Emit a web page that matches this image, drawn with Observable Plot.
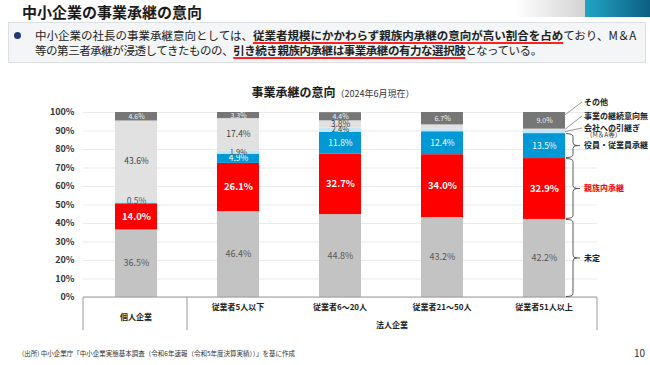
<!DOCTYPE html>
<html><head><meta charset="utf-8">
<script src="https://cdn.jsdelivr.net/npm/d3@7"></script>
<script src="https://cdn.jsdelivr.net/npm/@observablehq/plot@0.6"></script>
<style>
body{margin:0;width:650px;height:365px;overflow:hidden;background:#fff;font-family:"Noto Sans CJK JP","Noto Sans",sans-serif;position:relative;color:#1a1a1a}
.abs{position:absolute;white-space:nowrap}
.u{font-weight:bold;text-decoration:underline;text-decoration-color:#ff2020;text-decoration-thickness:1.5px;text-underline-offset:2px}
#chart{position:absolute;left:0;top:95px}
#chart g[aria-label="y-axis tick label"] text{font-weight:bold;font-size:9px;fill:#333}
</style></head><body>
<div class="abs" style="left:22px;top:3px;font-size:15px;line-height:17px;font-weight:bold;color:#1a1a1a">中小企業の事業承継の意向</div>
<div class="abs" style="left:515px;top:0;width:70px;height:17px;background:linear-gradient(to right,#ffffff,#d3d3d3)"></div>
<div class="abs" style="left:585px;top:0;width:65px;height:17px;background:linear-gradient(to right,#22a4c5,#0d5e82)"></div>
<div class="abs" style="left:8px;top:22px;width:638px;height:41px;box-sizing:border-box;background:#f3f5f6;border:1px solid #dce0e3"></div>
<div class="abs" style="left:14px;top:32px;width:7px;height:7px;border-radius:50%;background:#1f3a6e"></div>
<div class="abs" style="left:35px;top:28px;font-size:11.5px;line-height:15px;color:#222">中小企業の社長の事業承継意向としては、<span class="u">従業者規模にかかわらず親族内承継の意向が高い割合を占め</span>ており、M＆A<br><span style="letter-spacing:-0.45px">等の第三者承継が浸透してきたものの、<span class="u">引き続き親族内承継は事業承継の有力な選択肢</span>となっている。</span></div>
<div class="abs" style="left:333px;top:82px;transform:translateX(-50%);line-height:16px;color:#1a1a1a"><span style="font-size:12px;font-weight:bold">事業承継の意向</span><span style="font-size:9px;color:#333">（2024年6月現在）</span></div>
<div id="chart"></div>
<div class="abs" style="left:22px;top:349px;font-size:6.5px;line-height:9px;color:#333">(出所) 中小企業庁「中小企業実態基本調査（令和6年速報（令和5年度決算実績））」を基に作成</div>
<div class="abs" style="left:634px;top:347px;font-size:10px;line-height:12px;color:#333">10</div>
<script>
const categories = ["個人企業", "従業者5人以下", "従業者6～20人", "従業者21～50人", "従業者51人以上"];
const seriesNames = ["未定", "親族内承継", "役員・従業員承継", "会社への引継ぎ", "事業の継続意向無", "その他"];
const seriesColors = ["#c3c3c3", "#ff0000", "#0098d5", "#c3e6f7", "#e1e1e1", "#767676"];
const undecided  = [36.5, 46.4, 44.8, 43.2, 42.2];
const family     = [14.0, 26.1, 32.7, 34.0, 32.9];
const employee   = [0.5, 4.9, 11.8, 12.4, 13.5];
const company    = [0.8, 1.9, 2.4, 1.5, 1.7];
const noContinue = [43.6, 17.4, 3.8, 2.2, 0.7];
const other      = [4.6, 3.3, 4.4, 6.7, 9.0];
const yTicks = [0, 10, 20, 30, 40, 50, 60, 70, 80, 90, 100];
const groupLabel = "法人企業";
const noteMA = "（M＆A等）";
const unlabeled = [["個人企業", "会社への引継ぎ"], ["従業者21～50人", "会社への引継ぎ"], ["従業者21～50人", "事業の継続意向無"], ["従業者51人以上", "会社への引継ぎ"], ["従業者51人以上", "事業の継続意向無"]];

const seriesValues = [undecided, family, employee, company, noContinue, other];
const rows = [];
categories.forEach((cat, i) => {
  let acc = 0;
  seriesNames.forEach((s, k) => {
    const v = seriesValues[k][i];
    rows.push({cat, series: s, value: v, y1: acc, y2: acc + v,
      labeled: !unlabeled.some(([c, ss]) => c === cat && ss === s)});
    acc += v;
  });
});

const labelStyle = {
  "未定": {fill: "#595959", fontSize: 9, fontWeight: "normal"},
  "親族内承継": {fill: "#ffffff", fontSize: 9.5, fontWeight: "bold"},
  "役員・従業員承継": {fill: "#ffffff", fontSize: 8.5, fontWeight: "normal"},
  "会社への引継ぎ": {fill: "#404040", fontSize: 7.5, fontWeight: "normal"},
  "事業の継続意向無": {fill: "#404040", fontSize: 8.5, fontWeight: "normal"},
  "その他": {fill: "#eeeeee", fontSize: 7, fontWeight: "normal"}
};
const tinyFill = "#4a5d70";

const textMarks = seriesNames.map(s => Plot.text(rows.filter(d => d.series === s && d.labeled && d.value >= 1), {
  x: "cat", y: d => (d.y1 + d.y2) / 2,
  text: d => d.value.toFixed(1) + "%",
  fill: labelStyle[s].fill,
  fontSize: labelStyle[s].fontSize, fontWeight: labelStyle[s].fontWeight,
  lineHeight: 0.9
}));
const tinyMark = Plot.text(rows.filter(d => d.labeled && d.value < 1), {
  x: "cat", y: "y2", dy: -1.5,
  text: d => d.value.toFixed(1) + "%",
  fill: tinyFill, fontSize: 8.5
});

const chart = Plot.plot({
  width: 650, height: 237,
  marginLeft: 83, marginRight: 53, marginTop: 17, marginBottom: 35,
  style: {fontFamily: "'Noto Sans CJK JP', sans-serif", fontSize: "9px", color: "#333", background: "transparent", overflow: "visible"},
  x: {domain: categories, paddingInner: 0.59, paddingOuter: 0.295, axis: null},
  y: {domain: [0, 100], ticks: yTicks, tickFormat: d => d + "%", tickSize: 0, tickPadding: 9, label: null, grid: true},
  color: {type: "ordinal", domain: seriesNames, range: seriesColors},
  marks: [
    Plot.barY(rows, {x: "cat", y1: "y1", y2: "y2", fill: d => d.series, inset: 0}),
    ...textMarks,
    tinyMark
  ]
});
document.getElementById("chart").appendChild(chart);

const sx = chart.scale("x"), sy = chart.scale("y");
const X = c => sx.apply(c), bw = sx.bandwidth;
const [left, right] = sx.range;
const y0 = sy.apply(0);
const svg = d3.select(chart);
const g = svg.append("g").attr("font-family", "'Noto Sans CJK JP', sans-serif").attr("text-anchor", "start");

// category box
const sep = (X(categories[0]) + bw + X(categories[1])) / 2;
g.append("line").attr("x1", left).attr("x2", right).attr("y1", y0).attr("y2", y0).attr("stroke", "#9a9a9a");
[left, sep, right].forEach(x => g.append("line").attr("x1", x).attr("x2", x).attr("y1", y0).attr("y2", y0 + 33).attr("stroke", "#9a9a9a"));
categories.forEach((c, i) => {
  g.append("text").attr("x", X(c) + bw / 2).attr("y", y0 + (i === 0 ? 20 : 10)).attr("dy", "0.35em")
    .attr("text-anchor", "middle").attr("font-size", 8).attr("font-weight", "bold").attr("fill", "#222").text(c);
});
g.append("text").attr("x", (sep + right) / 2).attr("y", y0 + 28).attr("dy", "0.35em")
  .attr("text-anchor", "middle").attr("font-size", 8).attr("font-weight", "bold").attr("fill", "#222").text(groupLabel);

// right annotations for last bar
const last = categories[categories.length - 1];
const barR = X(last) + bw;
const lastRows = rows.filter(d => d.cat === last);
const seg = s => lastRows.find(d => d.series === s);
const xv = barR + 8, xl = barR + 19;
function brace(s, color) {
  const d = seg(s);
  const ya = sy.apply(d.y1) - 0.5, yb = sy.apply(d.y2) + 0.5, ym = (ya + yb) / 2;
  const p = `M${barR + 1},${yb} Q${xv},${yb} ${xv},${yb + 3} L${xv},${ym - 3} Q${xv},${ym} ${xv + 4},${ym} L${xv + 7},${ym} M${xv + 4},${ym} Q${xv},${ym} ${xv},${ym + 3} L${xv},${ya - 3} Q${xv},${ya} ${barR + 1},${ya}`;
  g.append("path").attr("d", p).attr("fill", "none").attr("stroke", "#333").attr("stroke-width", 0.8);
  g.append("text").attr("x", xl).attr("y", ym).attr("dy", "0.35em").attr("text-anchor", "start").attr("font-size", 8).attr("font-weight", "bold").attr("fill", color).text(s);
}
brace("未定", "#222");
brace("親族内承継", "#ff0000");
brace("役員・従業員承継", "#222");
const yTop = sy.apply(100);
const tops = [["その他", yTop - 10], ["事業の継続意向無", yTop + 4], ["会社への引継ぎ", yTop + 16]];
tops.forEach(([s, ly]) => {
  const d = seg(s);
  const sy0 = s === "その他" ? sy.apply(d.y2 - 1.5) : sy.apply((d.y1 + d.y2) / 2);
  g.append("line").attr("x1", barR).attr("y1", sy0).attr("x2", xl - 2).attr("y2", ly).attr("stroke", "#7f7f7f").attr("stroke-width", 0.8);
  g.append("text").attr("x", xl).attr("y", ly).attr("dy", "0.35em").attr("text-anchor", "start").attr("font-size", 8).attr("font-weight", "bold").attr("fill", "#222").text(s);
});
g.append("text").attr("x", xl + 2).attr("y", yTop + 23).attr("dy", "0.35em").attr("text-anchor", "start").attr("font-size", 6.5).attr("fill", "#333").text(noteMA);
</script>
</body></html>
